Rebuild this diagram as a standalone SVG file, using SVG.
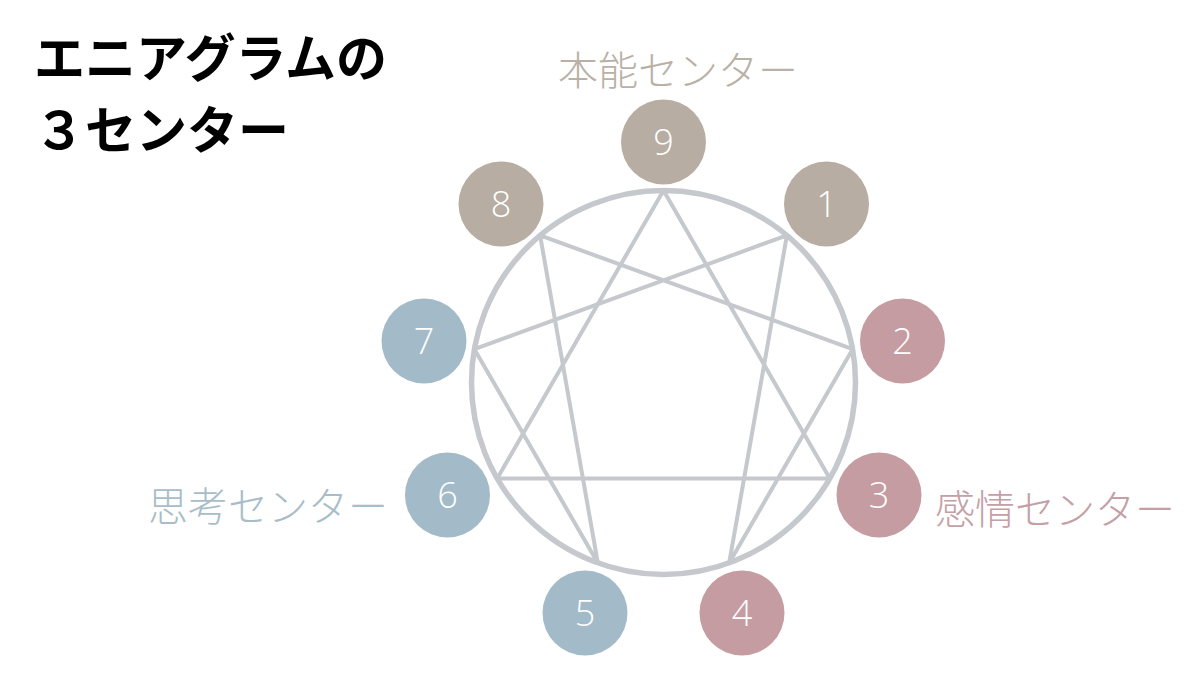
<svg xmlns="http://www.w3.org/2000/svg" width="1200" height="675" viewBox="0 0 1200 675">
<style>
.title{font-family:"Noto Sans CJK JP","Noto Sans CJK SC",sans-serif;font-weight:700;font-size:51px;fill:#000}
.lbl{font-family:"Noto Sans CJK JP","Noto Sans CJK SC",sans-serif;font-weight:300;font-size:40px}
.num{font-family:"Open Sans","Lato","Liberation Sans",sans-serif;font-weight:300;font-size:36px;fill:#fff;text-anchor:middle}
.gut{fill:#b7ada2}
.hea{fill:#c59ca2}
.hd{fill:#a3bbc8}
.line{fill:none;stroke:#c5c8cd;stroke-width:4;stroke-linejoin:round}
</style>
<rect width="1200" height="675" fill="#fff"/>
<g id="title">
<text class="title" x="34" y="77">エニアグラムの</text>
<text class="title" x="34" y="149">３センター</text>
</g>
<g id="connectors">
<circle cx="663.5" cy="382.5" r="192" fill="none" stroke="#c5c8cd" stroke-width="5.5"/>
<polygon class="line" points="663.5,190.5 829.8,478.5 497.2,478.5"/>
<polygon class="line" points="786.9,235.4 729.2,562.9 852.6,349.2 540.1,235.4 597.8,562.9 474.4,349.2"/>
</g>
<g id="label-gut"><text class="lbl" x="558" y="85" fill="#b9b1a6">本能センター</text></g>
<g id="label-head"><text class="lbl" x="148" y="521" fill="#a8bdc8">思考センター</text></g>
<g id="label-heart"><text class="lbl" x="935" y="524" fill="#c4a0a6">感情センター</text></g>
<g id="n9"><circle class="gut" cx="663.5" cy="142" r="42.5"/><text class="num" x="663.5" y="155">9</text></g>
<g id="n1"><circle class="gut" cx="826.5" cy="204" r="42.5"/><text class="num" x="826.5" y="217">1</text></g>
<g id="n8"><circle class="gut" cx="501" cy="204" r="42.5"/><text class="num" x="501" y="217">8</text></g>
<g id="n2"><circle class="hea" cx="902.5" cy="341" r="42.5"/><text class="num" x="902.5" y="354">2</text></g>
<g id="n3"><circle class="hea" cx="879" cy="495" r="42.5"/><text class="num" x="879" y="508">3</text></g>
<g id="n4"><circle class="hea" cx="742" cy="613" r="42.5"/><text class="num" x="742" y="626">4</text></g>
<g id="n5"><circle class="hd" cx="585" cy="613" r="42.5"/><text class="num" x="585" y="626">5</text></g>
<g id="n6"><circle class="hd" cx="447.5" cy="495" r="42.5"/><text class="num" x="447.5" y="508">6</text></g>
<g id="n7"><circle class="hd" cx="424" cy="341" r="42.5"/><text class="num" x="424" y="354">7</text></g>
</svg>
